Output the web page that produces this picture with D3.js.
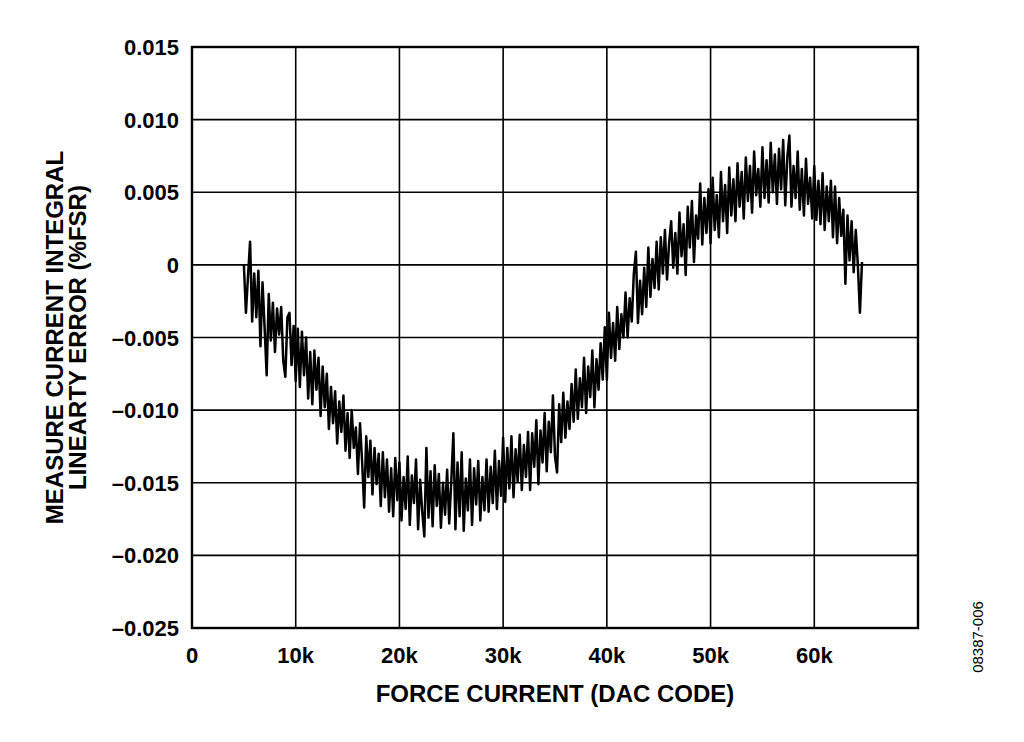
<!DOCTYPE html>
<html>
<head>
    <meta charset="utf-8">
    <script src="https://d3js.org/d3.v7.min.js"></script>
    <style>
      body { margin: 0; background: #fff; }
      text { font-family: "Liberation Sans", Arial, sans-serif; fill: #000; }
    </style>
</head>
<body>
    <script>
      // x axis ticks (DAC code) and their labels
      const xTicks = [0, 10000, 20000, 30000, 40000, 50000, 60000, 70000];
      const xTickLabels = ['0', '10k', '20k', '30k', '40k', '50k', '60k', ''];
      // y axis ticks (%FSR) and labels
      const yTicks = [0.015, 0.010, 0.005, 0, -0.005, -0.010, -0.015, -0.020, -0.025];
      const yTickLabels = ['0.015', '0.010', '0.005', '0', '\u20130.005', '\u20130.010', '\u20130.015', '\u20130.020', '\u20130.025'];

      // sweep: first DAC code and code step between samples
      const codeStart = 5000;
      const codeStep = 200;
      const inlError = [
        0.0000, -0.0033, -0.0008, 0.0016, -0.0039, -0.0006, -0.0036, -0.0004, -0.0056, -0.0012,
        -0.0043, -0.0076, -0.0020, -0.0052, -0.0026, -0.0060, -0.0030, -0.0048, -0.0029, -0.0066,
        -0.0077, -0.0036, -0.0033, -0.0069, -0.0042, -0.0080, -0.0044, -0.0084, -0.0046, -0.0076,
        -0.0050, -0.0092, -0.0060, -0.0096, -0.0059, -0.0086, -0.0064, -0.0104, -0.0070, -0.0098,
        -0.0075, -0.0113, -0.0084, -0.0109, -0.0087, -0.0123, -0.0094, -0.0115, -0.0090, -0.0128,
        -0.0102, -0.0133, -0.0100, -0.0126, -0.0112, -0.0144, -0.0109, -0.0135, -0.0167, -0.0118,
        -0.0146, -0.0121, -0.0158, -0.0126, -0.0151, -0.0130, -0.0166, -0.0129, -0.0160, -0.0134,
        -0.0170, -0.0140, -0.0173, -0.0133, -0.0162, -0.0136, -0.0176, -0.0146, -0.0168, -0.0132,
        -0.0179, -0.0145, -0.0164, -0.0134, -0.0182, -0.0148, -0.0170, -0.0187, -0.0126, -0.0174,
        -0.0142, -0.0180, -0.0138, -0.0166, -0.0144, -0.0181, -0.0150, -0.0172, -0.0141, -0.0178,
        -0.0149, -0.0116, -0.0182, -0.0136, -0.0173, -0.0129, -0.0183, -0.0147, -0.0169, -0.0134,
        -0.0179, -0.0140, -0.0165, -0.0135, -0.0176, -0.0146, -0.0169, -0.0134, -0.0170, -0.0139,
        -0.0164, -0.0128, -0.0168, -0.0135, -0.0159, -0.0119, -0.0163, -0.0126, -0.0154, -0.0118,
        -0.0160, -0.0127, -0.0149, -0.0117, -0.0155, -0.0124, -0.0146, -0.0115, -0.0155, -0.0116,
        -0.0139, -0.0107, -0.0151, -0.0114, -0.0136, -0.0102, -0.0142, -0.0108, -0.0129, -0.0090,
        -0.0132, -0.0143, -0.0096, -0.0122, -0.0088, -0.0119, -0.0094, -0.0113, -0.0082, -0.0108,
        -0.0072, -0.0106, -0.0078, -0.0098, -0.0064, -0.0102, -0.0070, -0.0091, -0.0059, -0.0098,
        -0.0065, -0.0086, -0.0054, -0.0079, -0.0043, -0.0079, -0.0033, -0.0064, -0.0040, -0.0066,
        -0.0029, -0.0058, -0.0034, -0.0050, -0.0019, -0.0050, -0.0023, -0.0039, -0.0006, 0.0009,
        -0.0040, -0.0011, -0.0034, -0.0002, -0.0029, 0.0012, -0.0022, 0.0004, -0.0016, 0.0016,
        -0.0017, 0.0019, -0.0006, 0.0024, -0.0010, 0.0015, 0.0030, -0.0002, 0.0022, -0.0006,
        0.0036, 0.0006, 0.0028, -0.0007, 0.0040, 0.0012, 0.0044, 0.0002, 0.0034, 0.0018,
        0.0056, 0.0014, 0.0046, 0.0022, 0.0052, 0.0015, 0.0060, 0.0024, 0.0048, 0.0019,
        0.0064, 0.0030, 0.0055, 0.0022, 0.0067, 0.0034, 0.0059, 0.0030, 0.0070, 0.0040,
        0.0064, 0.0032, 0.0074, 0.0044, 0.0068, 0.0036, 0.0078, 0.0048, 0.0066, 0.0040,
        0.0081, 0.0046, 0.0072, 0.0043, 0.0084, 0.0050, 0.0076, 0.0042, 0.0080, 0.0052,
        0.0086, 0.0041, 0.0074, 0.0089, 0.0040, 0.0068, 0.0046, 0.0078, 0.0038, 0.0066,
        0.0034, 0.0073, 0.0042, 0.0060, 0.0032, 0.0068, 0.0031, 0.0058, 0.0028, 0.0063,
        0.0024, 0.0054, 0.0030, 0.0058, 0.0019, 0.0054, 0.0015, 0.0046, 0.0020, 0.0038,
        -0.0013, 0.0034, 0.0003, 0.0030, -0.0005, 0.0024, 0.0000, -0.0033, 0.0002
      ];

      const width = 1024, height = 742;
      const margin = {top: 47, right: 106, bottom: 114, left: 192};

      const svg = d3.select('body').append('svg')
          .attr('width', width)
          .attr('height', height);

      const x = d3.scaleLinear()
          .domain([0, 70000])
          .range([margin.left, width - margin.right]);
      const y = d3.scaleLinear()
          .domain([-0.025, 0.015])
          .range([height - margin.bottom, margin.top]);

      // grid lines
      svg.append('g').selectAll('line')
          .data(xTicks.slice(1, -1))
          .join('line')
          .attr('x1', d => x(d)).attr('x2', d => x(d))
          .attr('y1', y.range()[1]).attr('y2', y.range()[0])
          .attr('stroke', '#000').attr('stroke-width', 1.6);
      svg.append('g').selectAll('line')
          .data(yTicks.slice(1, -1))
          .join('line')
          .attr('x1', x.range()[0]).attr('x2', x.range()[1])
          .attr('y1', d => y(d)).attr('y2', d => y(d))
          .attr('stroke', '#000').attr('stroke-width', 1.6);

      // the INL trace
      const line = d3.line()
          .x((d, i) => x(codeStart + i * codeStep))
          .y(d => y(d));
      svg.append('path')
          .datum(inlError)
          .attr('d', line)
          .attr('fill', 'none')
          .attr('stroke', '#000')
          .attr('stroke-width', 2.5)
          .attr('stroke-linejoin', 'round');

      // frame
      svg.append('rect')
          .attr('x', x.range()[0]).attr('y', y.range()[1])
          .attr('width', x.range()[1] - x.range()[0])
          .attr('height', y.range()[0] - y.range()[1])
          .attr('fill', 'none').attr('stroke', '#000').attr('stroke-width', 2.4);

      // tick labels
      svg.append('g').selectAll('text')
          .data(xTicks)
          .join('text')
          .attr('x', d => x(d))
          .attr('y', y.range()[0] + 35)
          .attr('text-anchor', 'middle')
          .attr('font-size', 22).attr('font-weight', 'bold')
          .text((d, i) => xTickLabels[i]);
      svg.append('g').selectAll('text')
          .data(yTicks)
          .join('text')
          .attr('x', x.range()[0] - 13)
          .attr('y', d => y(d) + 8)
          .attr('text-anchor', 'end')
          .attr('font-size', 22).attr('font-weight', 'bold')
          .text((d, i) => yTickLabels[i]);

      // axis titles
      svg.append('text')
          .attr('x', (x.range()[0] + x.range()[1]) / 2)
          .attr('y', 702)
          .attr('text-anchor', 'middle')
          .attr('font-size', 24).attr('font-weight', 'bold')
          .text('FORCE CURRENT (DAC CODE)');

      const yMid = (y.range()[0] + y.range()[1]) / 2;
      svg.append('text')
          .attr('transform', `translate(63, ${yMid}) rotate(-90)`)
          .attr('text-anchor', 'middle')
          .attr('font-size', 24).attr('font-weight', 'bold')
          .text('MEASURE CURRENT INTEGRAL');
      svg.append('text')
          .attr('transform', `translate(86, ${yMid}) rotate(-90)`)
          .attr('text-anchor', 'middle')
          .attr('font-size', 24).attr('font-weight', 'bold')
          .text('LINEARTY ERROR (%FSR)');

      // figure id
      svg.append('text')
          .attr('transform', `translate(983, 637) rotate(-90)`)
          .attr('text-anchor', 'middle')
          .attr('font-size', 15)
          .text('08387-006');
    </script>
</body>
</html>
